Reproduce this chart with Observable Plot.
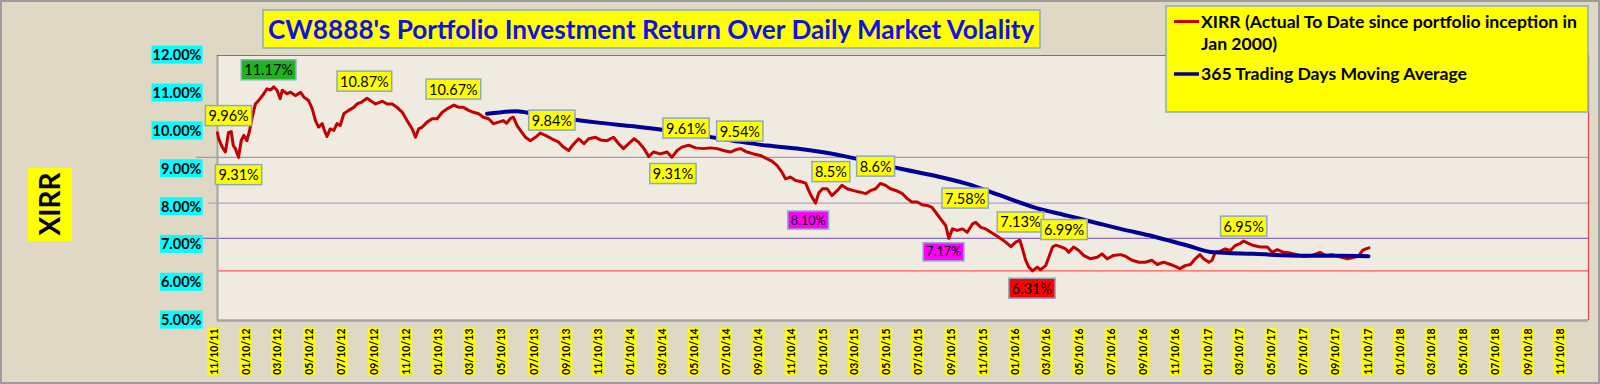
<!DOCTYPE html>
<html><head><meta charset="utf-8">
<script src="https://cdn.jsdelivr.net/npm/d3@7"></script>
<script src="https://cdn.jsdelivr.net/npm/@observablehq/plot@0.6"></script>
<style>
html,body{margin:0;padding:0;background:#DED8C4;}
#chart{width:1600px;height:384px;}
</style></head><body><div id="chart"></div>
<script>
// ---------- DATA ----------
const xirrDates = ["2011-11-10","2011-11-12","2011-11-19","2011-11-25","2011-12-01","2011-12-06","2011-12-10","2011-12-14","2011-12-20","2011-12-25","2011-12-30","2012-01-05","2012-01-10","2012-01-15","2012-01-21","2012-01-27","2012-02-06","2012-02-12","2012-02-19","2012-02-25","2012-03-02","2012-03-08","2012-03-12","2012-03-21","2012-03-28","2012-04-06","2012-04-16","2012-04-22","2012-05-01","2012-05-08","2012-05-14","2012-05-20","2012-05-27","2012-05-31","2012-06-05","2012-06-11","2012-06-18","2012-06-24","2012-06-30","2012-07-07","2012-07-16","2012-07-26","2012-08-01","2012-08-10","2012-08-20","2012-08-26","2012-09-05","2012-09-18","2012-09-27","2012-10-07","2012-10-16","2012-10-26","2012-11-04","2012-11-14","2012-11-20","2012-11-26","2012-12-03","2012-12-12","2012-12-22","2012-12-31","2013-01-10","2013-01-19","2013-02-01","2013-02-10","2013-02-19","2013-03-01","2013-03-10","2013-03-20","2013-03-29","2013-04-08","2013-04-17","2013-04-27","2013-05-06","2013-05-12","2013-05-19","2013-05-25","2013-06-01","2013-06-10","2013-06-17","2013-06-26","2013-07-06","2013-07-15","2013-07-25","2013-08-06","2013-08-19","2013-08-28","2013-09-07","2013-09-14","2013-09-26","2013-10-06","2013-10-15","2013-10-28","2013-11-06","2013-11-19","2013-12-01","2013-12-11","2013-12-20","2013-12-30","2014-01-09","2014-01-18","2014-01-28","2014-02-06","2014-02-15","2014-02-28","2014-03-13","2014-03-22","2014-04-01","2014-04-10","2014-04-23","2014-05-06","2014-05-21","2014-06-03","2014-06-16","2014-06-28","2014-07-11","2014-07-21","2014-07-30","2014-08-12","2014-08-24","2014-09-06","2014-09-19","2014-09-28","2014-10-08","2014-10-17","2014-10-24","2014-11-02","2014-11-12","2014-11-21","2014-12-01","2014-12-07","2014-12-13","2014-12-20","2014-12-26","2015-01-02","2015-01-11","2015-01-20","2015-01-30","2015-02-08","2015-02-18","2015-03-02","2015-03-15","2015-03-25","2015-04-03","2015-04-13","2015-04-22","2015-05-02","2015-05-11","2015-05-24","2015-06-02","2015-06-12","2015-06-21","2015-07-01","2015-07-10","2015-07-20","2015-07-29","2015-08-05","2015-08-14","2015-08-24","2015-08-30","2015-09-06","2015-09-15","2015-09-25","2015-10-04","2015-10-14","2015-10-20","2015-10-30","2015-11-08","2015-11-18","2015-11-27","2015-12-07","2015-12-16","2015-12-26","2016-01-04","2016-01-12","2016-01-17","2016-01-23","2016-01-29","2016-02-05","2016-02-14","2016-02-20","2016-03-01","2016-03-07","2016-03-14","2016-03-20","2016-03-29","2016-04-08","2016-04-14","2016-04-23","2016-05-03","2016-05-12","2016-05-25","2016-06-07","2016-06-16","2016-06-26","2016-07-08","2016-07-21","2016-07-30","2016-08-12","2016-08-25","2016-09-06","2016-09-19","2016-09-29","2016-10-11","2016-10-24","2016-11-02","2016-11-11","2016-11-21","2016-12-01","2016-12-10","2016-12-19","2016-12-26","2017-01-05","2017-01-11","2017-01-17","2017-01-27","2017-02-05","2017-02-15","2017-02-24","2017-03-06","2017-03-12","2017-03-22","2017-03-31","2017-04-13","2017-04-26","2017-05-05","2017-05-15","2017-05-27","2017-06-09","2017-06-22","2017-07-04","2017-07-20","2017-08-04","2017-08-14","2017-08-27","2017-09-09","2017-09-25","2017-10-08","2017-10-17","2017-10-24","2017-10-30","2017-11-05"];
const xirrValues = [9.96,9.81,9.58,9.45,9.97,9.99,9.62,9.54,9.31,9.75,9.89,9.75,10.02,10.37,10.72,10.81,10.99,11.12,11.09,11.17,11.08,10.86,11.08,10.99,11.03,10.94,11.03,10.90,10.81,10.59,10.28,10.11,10.20,10.02,9.86,10.06,10.02,10.20,10.15,10.46,10.55,10.63,10.72,10.77,10.87,10.81,10.72,10.79,10.72,10.72,10.63,10.50,10.28,10.06,9.84,10.06,10.11,10.24,10.33,10.33,10.50,10.59,10.69,10.63,10.63,10.55,10.50,10.46,10.37,10.33,10.20,10.24,10.28,10.21,10.33,10.37,10.15,9.97,9.84,9.75,9.84,9.95,9.89,9.80,9.71,9.58,9.49,9.62,9.80,9.67,9.80,9.84,9.77,9.75,9.84,9.67,9.54,9.67,9.80,9.71,9.54,9.33,9.45,9.40,9.45,9.31,9.49,9.58,9.63,9.56,9.54,9.56,9.54,9.49,9.45,9.51,9.54,9.45,9.40,9.36,9.27,9.21,9.09,8.92,8.74,8.79,8.70,8.67,8.63,8.43,8.26,8.10,8.37,8.48,8.48,8.30,8.43,8.57,8.48,8.43,8.39,8.35,8.43,8.48,8.62,8.57,8.48,8.42,8.36,8.22,8.13,8.13,8.06,8.04,7.99,7.86,7.69,7.51,7.17,7.42,7.38,7.42,7.33,7.55,7.59,7.46,7.42,7.33,7.25,7.16,7.07,6.95,7.07,7.12,6.89,6.59,6.41,6.31,6.41,6.34,6.45,6.67,6.94,6.99,6.95,6.89,6.80,6.94,6.85,6.72,6.63,6.67,6.76,6.63,6.72,6.74,6.70,6.59,6.54,6.54,6.59,6.48,6.54,6.48,6.43,6.37,6.45,6.48,6.63,6.74,6.63,6.54,6.59,6.80,6.83,6.89,6.85,6.98,7.04,7.10,7.03,6.98,6.94,6.94,6.80,6.87,6.80,6.78,6.74,6.69,6.72,6.80,6.72,6.74,6.69,6.63,6.67,6.72,6.85,6.89,6.92];

const maDates = ["2013-04-05","2013-06-01","2013-07-02","2013-09-04","2013-11-06","2014-01-08","2014-03-14","2014-05-15","2014-07-17","2014-09-19","2014-11-21","2015-01-23","2015-03-28","2015-05-30","2015-08-01","2015-10-04","2015-12-07","2016-02-08","2016-04-11","2016-06-13","2016-07-21","2016-09-22","2016-11-25","2017-01-14","2017-03-31","2017-07-04","2017-09-06","2017-11-04"];
const maValues = [10.46,10.53,10.46,10.33,10.22,10.13,10.02,9.89,9.75,9.62,9.53,9.40,9.21,9.01,8.83,8.61,8.30,7.99,7.77,7.55,7.42,7.22,6.98,6.80,6.76,6.71,6.71,6.70];

const refLevels = [9.31, 8.10, 7.17, 6.31];

const yTicks = [5, 6, 7, 8, 9, 10, 11, 12];
const xTickLabels = ["11/10/11","01/10/12","03/10/12","05/10/12","07/10/12","09/10/12","11/10/12","01/10/13","03/10/13","05/10/13","07/10/13","09/10/13","11/10/13","01/10/14","03/10/14","05/10/14","07/10/14","09/10/14","11/10/14","01/10/15","03/10/15","05/10/15","07/10/15","09/10/15","11/10/15","01/10/16","03/10/16","05/10/16","07/10/16","09/10/16","11/10/16","01/10/17","03/10/17","05/10/17","07/10/17","09/10/17","11/10/17","01/10/18","03/10/18","05/10/18","07/10/18","09/10/18","11/10/18"];
const xAxisEnd = "2018-12-27";

const annoTexts  = ["9.96%","9.31%","11.17%","10.87%","10.67%","9.84%","9.61%","9.54%","9.31%","8.5%","8.6%","8.10%","7.58%","7.17%","7.13%","6.99%","6.31%","6.95%"];
const annoDates  = ["2011-12-01","2011-12-20","2012-02-15","2012-08-15","2013-01-31","2013-08-06","2014-04-18","2014-07-29","2014-03-24","2015-01-18","2015-04-13","2014-12-06","2015-09-30","2015-08-20","2016-01-13","2016-04-05","2016-02-04","2017-03-12"];
const annoValues = [10.39,8.83,11.60,11.30,11.09,10.27,10.06,9.98,8.86,8.91,9.055,7.64,8.21,6.80,7.58,7.38,5.83,7.47];
const annoKinds  = ["label","label","max","label","label","label","label","label","label","label","label","dip","label","dip","label","label","min","label"];

const titleText = "CW8888's Portfolio Investment Return Over Daily Market Volality";
const yLabelText = "XIRR";
const legendLabels = ["XIRR (Actual To Date since portfolio inception in", "Jan 2000)", "365 Trading Days Moving Average"];

// ---------- BUILD ----------
const parse = d3.utcParse("%Y-%m-%d");
const parseTick = s => { const [m, d, y] = s.split("/").map(Number); return new Date(Date.UTC(2000 + y, m - 1, d)); };
const xirr = xirrDates.map((d, i) => ({date: parse(d), value: xirrValues[i]}));
const ma = maDates.map((d, i) => ({date: parse(d), value: maValues[i]}));
const annos = annoTexts.map((t, i) => ({text: t, date: parse(annoDates[i]), value: annoValues[i], kind: annoKinds[i]}));
const xStart = parseTick(xTickLabels[0]);
const xEnd = parse(xAxisEnd);

const FONT = "Lato, 'Open Sans', sans-serif";
const refStyle = [
  {stroke: "#B48ECB", x1: parse("2011-10-01")},
  {stroke: "#B89AD0", x1: parse("2011-10-24")},
  {stroke: "#8C6CB4", x1: parse("2011-10-01")},
  {stroke: "#FF5A5A", x1: xStart}
];

const chart = Plot.plot({
  width: 1600, height: 384,
  marginLeft: 217, marginTop: 55, marginRight: 12, marginBottom: 64,
  style: {background: "transparent", fontFamily: FONT, overflow: "visible"},
  x: {type: "utc", domain: [xStart, xEnd], axis: null},
  y: {domain: [5, 12], axis: null},
  marks: [
    Plot.frame({fill: "#EFEBE0", stroke: "none"}),
    ...refLevels.map((v, i) => Plot.ruleY([v], {x1: refStyle[i].x1, x2: xEnd, stroke: refStyle[i].stroke, strokeWidth: 1.4})),
    Plot.ruleX([xStart], {stroke: "#A4A4A4", strokeWidth: 2}),
    Plot.ruleY([5], {stroke: "#A4A4A4", strokeWidth: 2.5}),
    Plot.ruleY([12], {stroke: "#E04848", strokeWidth: 1.2}),
    Plot.ruleX([xEnd], {stroke: "#E04848", strokeWidth: 1.2}),
    Plot.line(xirr, {x: "date", y: "value", stroke: "#C40000", strokeWidth: 3, strokeLinejoin: "round"}),
    Plot.line(ma, {x: "date", y: "value", stroke: "#000096", strokeWidth: 4, curve: "monotone-x"}),
    Plot.text(annos.filter(d => d.kind !== "dip"), {x: "date", y: "value", text: "text", fill: "black", fontSize: 14.5}),
    Plot.text(annos.filter(d => d.kind === "dip"), {x: "date", y: "value", text: "text", fill: "black", fontSize: 12.5}),
    Plot.text(yTicks, {y: d => d, frameAnchor: "left", dx: -16, textAnchor: "end", text: d => d.toFixed(2) + "%", fontSize: 14.5, fontWeight: "bold", fill: "black"}),
    Plot.text(xTickLabels, {x: d => parseTick(d), text: d => d, frameAnchor: "bottom", rotate: -90, textAnchor: "end", dy: 8, fontSize: 10.5, fontWeight: "bold", fill: "black"})
  ]
});
document.getElementById("chart").appendChild(chart);

// ---------- DECORATION (boxes behind labels, title, legend) ----------
const svg = d3.select(chart);
const kindFill = {label: "#FFFF00", max: "#1FB21F", dip: "#FF00FF", min: "#FF0000"};
const annoKindByText = new Map(annos.map(d => [d.text, d.kind]));
const yTickSet = new Set(yTicks.map(d => d.toFixed(2) + "%"));
const xTickSet = new Set(xTickLabels);

function boxBehind(el, fill, stroke, px, py, sw) {
  const bb = el.getBBox();
  const r = document.createElementNS("http://www.w3.org/2000/svg", "rect");
  r.setAttribute("x", bb.x - px); r.setAttribute("y", bb.y - py);
  r.setAttribute("width", bb.width + 2 * px); r.setAttribute("height", bb.height + 2 * py);
  r.setAttribute("fill", fill);
  if (stroke) { r.setAttribute("stroke", stroke); r.setAttribute("stroke-width", sw); } else r.setAttribute("stroke", "none");
  const t = el.getAttribute("transform"); if (t) r.setAttribute("transform", t);
  el.parentNode.insertBefore(r, el);
}
svg.selectAll("text").each(function() {
  const s = this.textContent;
  if (xTickSet.has(s)) boxBehind(this, "#FFFF00", null, 0.5, 0, 0);
  else if (yTickSet.has(s)) boxBehind(this, "#00FFFF", null, 1, 0.5, 0);
  else if (annoKindByText.has(s)) boxBehind(this, kindFill[annoKindByText.get(s)], "#8EA9C4", 3, 1.5, 1.5);
});

// background & outer border
svg.insert("rect", ":first-child").attr("x", 1).attr("y", 1).attr("width", 1598).attr("height", 382)
  .attr("fill", "#DED8C4").attr("stroke", "#9C9C9C").attr("stroke-width", 2);

// title
const tg = svg.append("g").attr("text-anchor", "start");
tg.append("rect").attr("x", 263).attr("y", 10).attr("width", 777).attr("height", 38)
  .attr("fill", "#FFFF00").attr("stroke", "#8EA9C4").attr("stroke-width", 1.5);
tg.append("text").attr("x", 268).attr("y", 38.5).attr("font-family", FONT).attr("font-weight", "bold")
  .attr("font-size", 26.2).attr("fill", "#1010E8").attr("text-anchor", "start").text(titleText);

// y label
const yg = svg.append("g");
yg.append("rect").attr("x", 28).attr("y", 168).attr("width", 44).attr("height", 73).attr("fill", "#FFFF00");
yg.append("text").attr("transform", "translate(50,204) rotate(-90)").attr("text-anchor", "middle")
  .attr("dy", "0.36em").attr("font-family", FONT).attr("font-weight", "bold").attr("font-size", 28)
  .attr("fill", "black").text(yLabelText);

// legend
const lg = svg.append("g").attr("font-family", FONT).attr("font-weight", "bold").attr("font-size", 17.6)
  .attr("fill", "black").attr("text-anchor", "start");
lg.append("rect").attr("x", 1166).attr("y", 6).attr("width", 422).attr("height", 106)
  .attr("fill", "#FFFF00").attr("stroke", "#8EA9C4").attr("stroke-width", 1.5);
lg.append("line").attr("x1", 1174).attr("x2", 1199).attr("y1", 21.5).attr("y2", 21.5).attr("stroke", "#C40000").attr("stroke-width", 3);
lg.append("line").attr("x1", 1174).attr("x2", 1199).attr("y1", 74).attr("y2", 74).attr("stroke", "#000096").attr("stroke-width", 3.5);
lg.append("text").attr("x", 1201).attr("y", 28).attr("text-anchor", "start").text(legendLabels[0]);
lg.append("text").attr("x", 1201).attr("y", 50).attr("text-anchor", "start").text(legendLabels[1]);
lg.append("text").attr("x", 1201).attr("y", 80).attr("text-anchor", "start").text(legendLabels[2]);
</script></body></html>
